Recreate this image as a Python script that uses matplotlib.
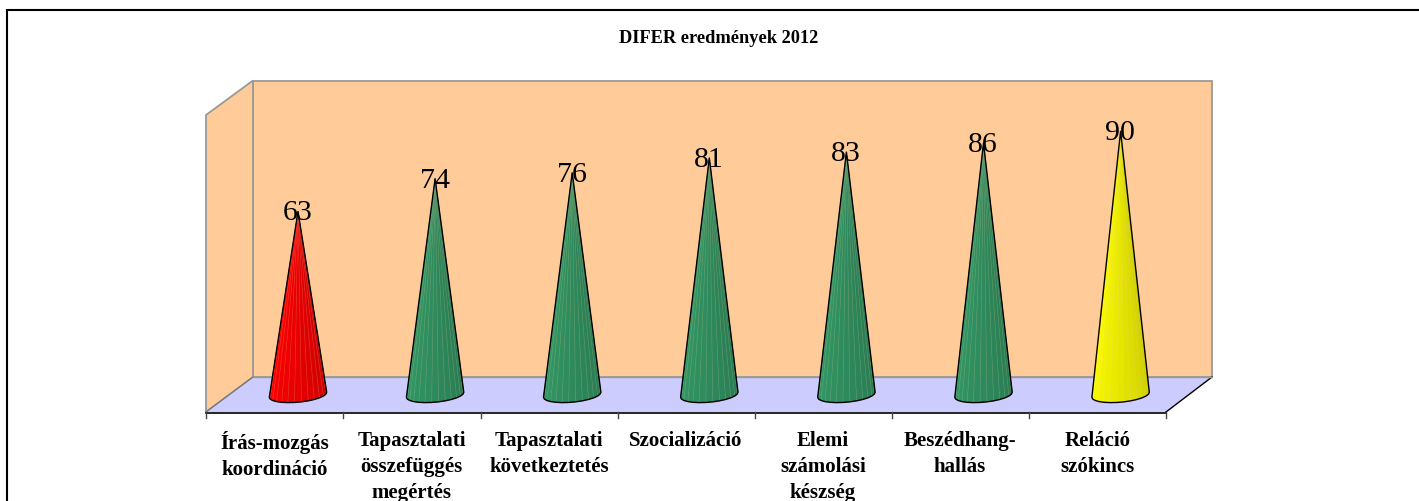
import matplotlib
matplotlib.use("Agg")
import matplotlib.pyplot as plt
from matplotlib.patches import Polygon
from matplotlib.colors import to_rgb
import numpy as np

plt.rcParams['font.family'] = ['Liberation Serif', 'DejaVu Serif']

title = "DIFER eredmények 2012"
categories = ["Írás-mozgás\nkoordináció", "Tapasztalati\nösszefüggés\nmegértés",
              "Tapasztalati\nkövetkeztetés", "Szocializáció", "Elemi\nszámolási\nkészség",
              "Beszédhang-\nhallás", "Reláció\nszókincs"]
values = [63, 74, 76, 81, 83, 86, 90]
cone_colors = ["#FF0000", "#339966", "#339966", "#339966", "#339966", "#339966", "#FFFF00"]

W, H = 1419, 502
fig = plt.figure(figsize=(W / 100, H / 100), dpi=100, facecolor="white")
ax = fig.add_axes([0, 0, 1, 1])

# Value and category scales: pixel position = 298 + 137.1*i, 399.6 - 2.97*v
XS, X0 = 137.1, 298.0
YS, Y0 = 2.97, 399.6
ax.set_xlim(-X0 / XS, (W - X0) / XS)
ax.set_ylim((Y0 - H) / YS, Y0 / YS)
ax.axis("off")

dx = 1 / XS   # one pixel in x data units
dy = 1 / YS   # one pixel in y data units
def P(px, py):
    return ((px - X0) * dx, (Y0 - py) * dy)

# frame: only the top and left edges show
ax.plot(*zip(P(7, H), P(7, 10.5), P(W, 10.5)), color="black", lw=1.5, zorder=1, solid_joinstyle="miter")
# walls
ax.add_patch(Polygon([P(253, 81.5), P(1212, 81.5), P(1212, 378), P(253, 378)], closed=True,
                     fc="#FFCC99", ec="#999999", lw=1.3, zorder=1))
ax.add_patch(Polygon([P(206, 116), P(253, 81.5), P(253, 378), P(206, 413)], closed=True,
                     fc="#FFCC99", ec="#999999", lw=1.3, zorder=1))
ax.add_patch(Polygon([P(206, 413), P(253, 378), P(1212, 378), P(1166, 413)], closed=True,
                     fc="#CCCCFF", ec="none", zorder=2))
ax.plot(*zip(P(1166, 413), P(1212, 378)), color="black", lw=1.0, zorder=3)
ax.plot(*zip(P(206, 413), P(253, 378)), color="#777777", lw=1.0, zorder=3)
ax.plot(*zip(P(253, 378), P(1212, 378)), color="#999999", lw=1.0, zorder=3)
# axis and ticks
ax.plot(*zip(P(206, 413.5), P(1166, 413.5)), color="black", lw=1.2, zorder=3)
for k in range(len(values) + 1):
    px = 206.3 + 137.1 * k
    ax.plot(*zip(P(px, 413), P(px, 419)), color="#444444", lw=1.0, zorder=3)

# cones
n_facets = 13
half_w = 28.7 * dx
for i, (v, c) in enumerate(zip(values, cone_colors)):
    rgb = np.array(to_rgb(c))
    t = np.linspace(np.pi, 0, n_facets + 1)
    base_y_c = (Y0 - 395.8) * dy
    bx = i + half_w * np.cos(t)
    by = base_y_c + (2.5 * dy) * np.cos(t) - (7.4 * dy) * np.sin(t)
    for j in range(n_facets):
        f = j / (n_facets - 1)
        shade = 1.0 - 0.2 * f
        col = np.clip(rgb * shade, 0, 1)
        ax.add_patch(Polygon([(bx[j], by[j]), (bx[j + 1], by[j + 1]), (i, v)], closed=True,
                             fc=col, ec=col, lw=0.4, zorder=4))
    for j in range(1, n_facets):
        ax.plot([bx[j], i], [by[j], v], color="#FFE0B0", lw=0.5, alpha=0.18, zorder=4.5)
    outline = list(zip(bx, by)) + [(i, v)]
    ax.add_patch(Polygon(outline, closed=True, fc="none", ec="black", lw=1.0, zorder=5, joinstyle="round"))
    ax.text(i - 0.5 * dx, v - 0.3, str(v), ha="center", va="center", fontsize=21.5, color="black", zorder=6)

# text
ax.text(*P(718.5, 38.5), title, ha="center", va="center", fontsize=13.2, fontweight="bold", zorder=6)
for i, lab in enumerate(categories):
    ax.text(i - 23.4 * dx, (Y0 - 431) * dy, lab, ha="center", va="top", fontsize=15, fontweight="bold",
            linespacing=1.41, zorder=6)

fig.savefig("out.png", dpi=100, facecolor="white")
